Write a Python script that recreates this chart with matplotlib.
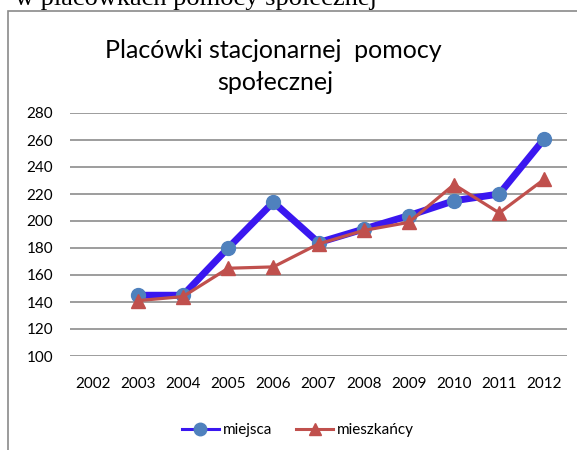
"""Placówki stacjonarnej pomocy społecznej - miejsca vs mieszkańcy."""
import matplotlib
matplotlib.use('Agg')
import matplotlib.pyplot as plt
from matplotlib.patches import Rectangle
from matplotlib.lines import Line2D

matplotlib.rcParams['font.family'] = ['Lato', 'DejaVu Sans']

years = ['2002', '2003', '2004', '2005', '2006', '2007',
         '2008', '2009', '2010', '2011', '2012']
# 2002 has no data
miejsca = [None, 145, 145, 180, 214, 184, 194, 204, 215, 220, 261]
mieszkancy = [None, 141, 144, 165, 166, 183, 193, 199, 227, 206, 231]
y_ticks = [100, 120, 140, 160, 180, 200, 220, 240, 260, 280]

BLUE_LINE = '#3A17F0'
BLUE_MARK = '#4F81BD'
RED = '#C0504D'

W, H = 577, 450
fig = plt.figure(figsize=(W / 100, H / 100), dpi=100)
fig.patch.set_facecolor('white')

# text above the chart frame, cut by the page edge
fig.text(377 / W, 1 - 5 / H, 'w placówkach pomocy społecznej',
         family='Liberation Serif', fontsize=19, ha='right', va='baseline')

# chart frame (only left and top edges visible)
fig.patches.append(Rectangle((7.5 / W, -0.1), 1.2, 1 - 11 / H + 0.1,
                             transform=fig.transFigure, fill=False,
                             edgecolor='#8a8a8a', lw=1.2))

ax = fig.add_axes([70 / W, 1 - 356 / H, 497 / W, 243 / H])

x = list(range(len(years)))
xm = [i for i, v in zip(x, miejsca) if v is not None]
vm = [v for v in miejsca if v is not None]
xz = [i for i, v in zip(x, mieszkancy) if v is not None]
vz = [v for v in mieszkancy if v is not None]

ax.plot(xm, vm, color=BLUE_LINE, lw=5, marker='o', ms=10,
        mfc=BLUE_MARK, mec=BLUE_MARK, zorder=3)
ax.plot(xz, vz, color=RED, lw=2.3, marker='^', ms=10,
        mfc=RED, mec=RED, zorder=4)

ax.set_xlim(-0.5, len(years) - 0.5)
ax.set_ylim(100, 280)
ax.set_xticks(x)
ax.set_xticklabels(years)
ax.set_yticks(y_ticks)
ax.yaxis.grid(True, color='#8c8c8c', lw=1.2)
ax.set_axisbelow(True)
for s in ax.spines.values():
    s.set_visible(False)
ax.tick_params(axis='y', length=0, pad=12, labelsize=11)
ax.tick_params(axis='x', length=0, pad=15, labelsize=11)

fig.text(273 / W, 1 - 58 / H, 'Placówki stacjonarnej  pomocy',
         fontsize=18, ha='center', va='baseline')
fig.text(275 / W, 1 - 90 / H, 'społecznej',
         fontsize=18, ha='center', va='baseline')

handles = [
    Line2D([], [], color=BLUE_LINE, lw=2.2, marker='o', ms=9,
           mfc=BLUE_MARK, mec=BLUE_MARK),
    Line2D([], [], color=RED, lw=2.2, marker='^', ms=9,
           mfc=RED, mec=RED),
]
fig.legend(handles, ['miejsca', 'mieszkańcy'], loc='center',
           bbox_to_anchor=(298 / W, 1 - 430 / H),
           ncol=2, frameon=False, fontsize=11, handlelength=2.4,
           handletextpad=0.25, columnspacing=1.6)

plt.savefig('out.png', dpi=100)
